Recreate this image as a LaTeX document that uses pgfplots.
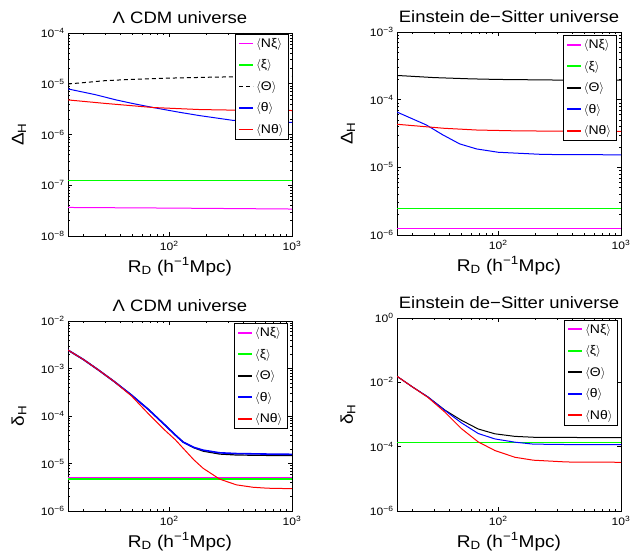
\documentclass[border=0pt]{standalone}
\usepackage{fontspec}
\setmainfont{Liberation Sans}[FakeStretch=1.12]
\usepackage{pgfplots}
\pgfplotsset{compat=1.18}
\definecolor{mag}{rgb}{1,0,1}
\definecolor{grn}{rgb}{0,1,0}
\definecolor{blu}{rgb}{0,0,1}
\definecolor{rd}{rgb}{1,0,0}
\pgfplotsset{
 myax/.style={
  scale only axis, xmin=15, xmax=1000,
  axis line style={line width=0.8bp},
  tick align=inside,
  xtick={100,1000}, xticklabels={10\textsuperscript{2},10\textsuperscript{3}},
  minor xtick={20,30,40,50,60,70,80,90,200,300,400,500,600,700,800,900},
  major tick length=4bp, minor tick length=2bp,
  tick style={black, line width=0.5bp},
  tick label style={font=\fontsize{10.8bp}{13bp}\selectfont},
  xticklabel style={yshift=-2bp},
  title style={font=\fontsize{16.5bp}{19bp}\selectfont},
  label style={font=\fontsize{17bp}{20bp}\selectfont},
  every axis y label/.style={at={(rel axis cs:0,0.5)}, xshift=-49bp, rotate=90, anchor=center, font=\fontsize{17bp}{20bp}\selectfont},
  xlabel={R\textsubscript{D} (h\textsuperscript{−1}Mpc)},
  legend style={font=\fontsize{12.5bp}{14bp}\selectfont, anchor=north east, inner xsep=3bp, inner ysep=2bp, row sep=7bp, fill=white},
  legend cell align=left,
  legend image code/.code={\path[draw,##1,line width=1.9bp] (0bp,0bp) -- (14bp,0bp);},
  every axis plot/.append style={line width=1bp, no markers},
 }
}
\begin{document}
\begin{tikzpicture}
\path[use as bounding box] (0,0) rectangle (631bp,559bp);
% Top left
\begin{loglogaxis}[myax, at={(68bp,323bp)}, anchor=south west, width=224bp, height=203bp,
  ymin=1e-8, ymax=1e-4,
  ytick={1e-8,1e-7,1e-6,1e-5,1e-4},
  yticklabels={10\textsuperscript{−8},10\textsuperscript{−7},10\textsuperscript{−6},10\textsuperscript{−5},10\textsuperscript{−4}},
  title={Λ CDM universe}, ylabel={Δ\textsubscript{H}},
  legend style={at={(0.985,0.995)}}]
\addplot[draw=mag] coordinates {(15,3.65e-8) (100,3.55e-8) (1000,3.4e-8)};
\addlegendentry{$\langle$Nξ$\rangle$}
\addplot[draw=grn] coordinates {(15,1.25e-7) (1000,1.25e-7)};
\addlegendentry{$\langle$ξ$\rangle$}
\addplot[draw=black, dash pattern=on 4bp off 3bp] coordinates {(15,9.9e-6) (20,1.05e-5) (30,1.15e-5) (50,1.22e-5) (100,1.29e-5) (200,1.34e-5) (400,1.38e-5) (1000,1.40e-5)};
\addlegendentry{$\langle$Θ$\rangle$}
\addplot[draw=blu] coordinates {(15,7.9e-6) (25,6.1e-6) (37,4.8e-6) (50,4.1e-6) (74,3.4e-6) (120,2.75e-6) (178,2.35e-6) (330,1.9e-6) (600,1.76e-6) (1000,1.73e-6)};
\addlegendentry{$\langle$θ$\rangle$}
\addplot[draw=rd] coordinates {(15,4.8e-6) (30,4.1e-6) (74,3.4e-6) (178,3.1e-6) (400,3.0e-6) (1000,2.97e-6)};
\addlegendentry{$\langle$Nθ$\rangle$}
\end{loglogaxis}
% Top right
\begin{loglogaxis}[myax, at={(397bp,324bp)}, anchor=south west, width=224bp, height=203bp,
  ymin=1e-6, ymax=1e-3,
  ytick={1e-6,1e-5,1e-4,1e-3},
  yticklabels={10\textsuperscript{−6},10\textsuperscript{−5},10\textsuperscript{−4},10\textsuperscript{−3}},
  title={Einstein de−Sitter universe}, ylabel={Δ\textsubscript{H}},
  legend style={at={(0.979,0.984)}}]
\addplot[draw=mag] coordinates {(15,1.25e-6) (1000,1.25e-6)};
\addlegendentry{$\langle$Nξ$\rangle$}
\addplot[draw=grn] coordinates {(15,2.5e-6) (1000,2.5e-6)};
\addlegendentry{$\langle$ξ$\rangle$}
\addplot[draw=black] coordinates {(15,2.28e-4) (30,2.12e-4) (60,2.03e-4) (100,1.99e-4) (300,1.95e-4) (1000,1.94e-4)};
\addlegendentry{$\langle$Θ$\rangle$}
\addplot[draw=blu] coordinates {(15,6.56e-5) (26,4.23e-5) (35.5,3.01e-5) (48.6,2.22e-5) (66.7,1.87e-5) (100,1.67e-5) (233,1.55e-5) (1000,1.53e-5)};
\addlegendentry{$\langle$θ$\rangle$}
\addplot[draw=rd] coordinates {(15,4.33e-5) (25,4.0e-5) (36,3.78e-5) (67,3.56e-5) (150,3.45e-5) (1000,3.41e-5)};
\addlegendentry{$\langle$Nθ$\rangle$}
\end{loglogaxis}
% Bottom left
\begin{loglogaxis}[myax, at={(68bp,48bp)}, anchor=south west, width=224bp, height=190bp,
  ymin=1e-6, ymax=1e-2,
  ytick={1e-6,1e-5,1e-4,1e-3,1e-2},
  yticklabels={10\textsuperscript{−6},10\textsuperscript{−5},10\textsuperscript{−4},10\textsuperscript{−3},10\textsuperscript{−2}},
  title={Λ CDM universe}, ylabel={δ\textsubscript{H}},
  legend style={at={(0.98,0.988)}}]
\addplot[draw=mag, line width=1.2bp] coordinates {(15,4.95e-6) (1000,4.95e-6)};
\addlegendentry{$\langle$Nξ$\rangle$}
\addplot[draw=grn, line width=1.1bp] coordinates {(15,4.72e-6) (1000,4.72e-6)};
\addlegendentry{$\langle$ξ$\rangle$}
\addplot[draw=black, line width=1.2bp] coordinates {(15,2.44e-3) (20,1.55e-3) (26.5,9.33e-4) (35.5,5.37e-4) (49.4,2.75e-4) (67.6,1.38e-4) (92.3,6.46e-5) (112.2,3.98e-5) (130,2.82e-5) (158.5,2.15e-5) (188.8,1.82e-5) (258,1.58e-5) (353,1.51e-5) (631,1.48e-5) (1000,1.47e-5)};
\addlegendentry{$\langle$Θ$\rangle$}
\addplot[draw=blu, line width=1.6bp] coordinates {(15,2.44e-3) (20,1.55e-3) (26.5,9.33e-4) (35.5,5.37e-4) (49.4,2.75e-4) (67.6,1.38e-4) (92.3,6.46e-5) (112.2,3.98e-5) (130,2.82e-5) (158.5,2.19e-5) (188.8,1.91e-5) (258,1.68e-5) (353,1.62e-5) (631,1.58e-5) (1000,1.56e-5)};
\addlegendentry{$\langle$θ$\rangle$}
\addplot[draw=rd] coordinates {(15,2.44e-3) (20,1.55e-3) (26.5,9.33e-4) (35.5,5.37e-4) (49.4,2.63e-4) (67.6,1.12e-4) (92.3,5.01e-5) (112.2,3.16e-5) (130,2.09e-5) (158.5,1.20e-5) (188.8,7.94e-6) (258,4.68e-6) (353,3.55e-6) (482,3.16e-6) (631,3.02e-6) (1000,2.95e-6)};
\addlegendentry{$\langle$Nθ$\rangle$}
\end{loglogaxis}
% Bottom right
\begin{loglogaxis}[myax, at={(397bp,48bp)}, anchor=south west, width=224bp, height=193bp,
  ymin=1e-6, ymax=1,
  ytick={1e-6,1e-4,1e-2,1},
  yticklabels={10\textsuperscript{−6},10\textsuperscript{−4},10\textsuperscript{−2},10\textsuperscript{0}},
  title={Einstein de−Sitter universe}, ylabel={δ\textsubscript{H}},
  legend style={at={(0.985,0.99)}}]
\addplot[draw=mag] coordinates {(15,1.33e-4) (1000,1.33e-4)};
\addlegendentry{$\langle$Nξ$\rangle$}
\addplot[draw=grn] coordinates {(15,1.33e-4) (1000,1.33e-4)};
\addlegendentry{$\langle$ξ$\rangle$}
\addplot[draw=black] coordinates {(15,1.54e-2) (20,7.24e-3) (26.8,3.50e-3) (36.7,1.38e-3) (50.2,6.61e-4) (68.7,3.55e-4) (94,2.51e-4) (136.8,2.09e-4) (200,1.95e-4) (398,1.93e-4) (1000,1.91e-4)};
\addlegendentry{$\langle$Θ$\rangle$}
\addplot[draw=blu] coordinates {(15,1.54e-2) (20,7.24e-3) (26.8,3.50e-3) (36.7,1.35e-3) (50.2,5.50e-4) (68.7,2.57e-4) (94,1.74e-4) (136.8,1.38e-4) (193,1.20e-4) (398,1.16e-4) (1000,1.16e-4)};
\addlegendentry{$\langle$θ$\rangle$}
\addplot[draw=rd] coordinates {(15,1.54e-2) (20,7.24e-3) (26.8,3.39e-3) (36.7,1.20e-3) (50.2,3.63e-4) (68.7,1.41e-4) (94,7.59e-5) (136.8,4.68e-5) (193,3.80e-5) (362,3.34e-5) (1000,3.27e-5)};
\addlegendentry{$\langle$Nθ$\rangle$}
\end{loglogaxis}
\end{tikzpicture}
\end{document}
